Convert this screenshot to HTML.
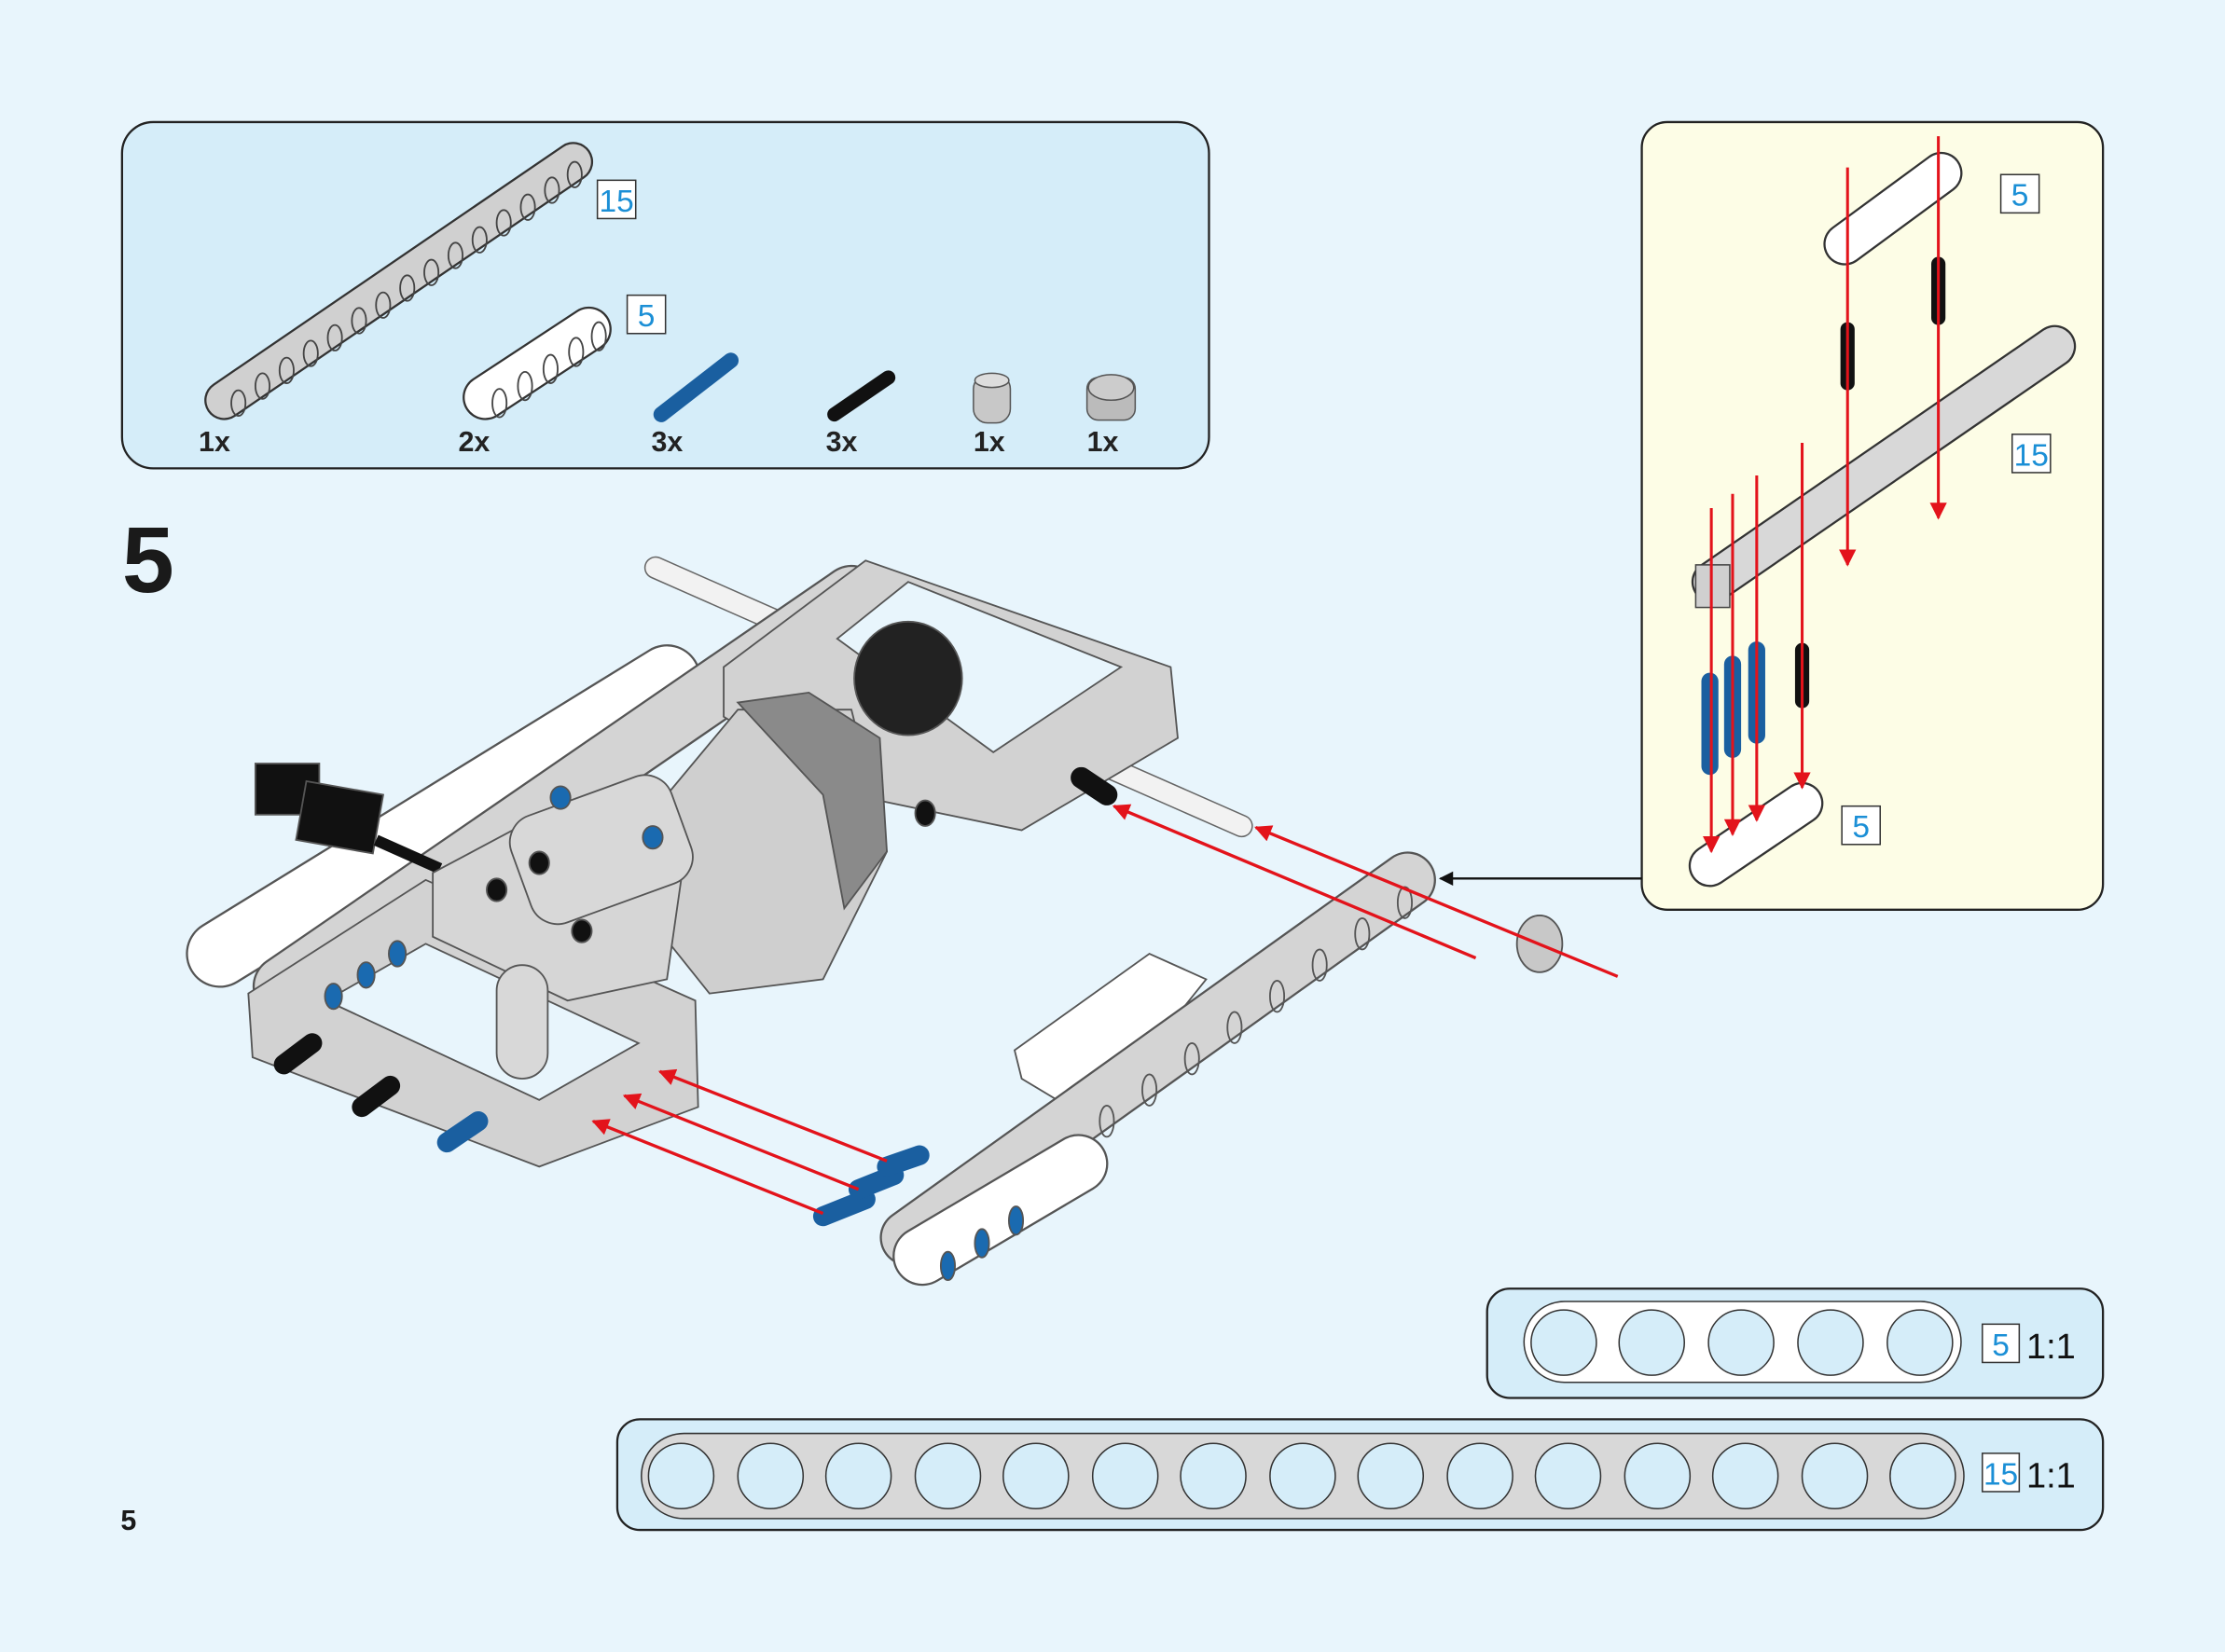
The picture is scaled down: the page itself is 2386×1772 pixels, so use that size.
<!DOCTYPE html>
<html><head><meta charset="utf-8"><style>
html,body{margin:0;padding:0;background:#e8f5fc;}
svg{display:block;}
text{font-family:"Liberation Sans",Arial,sans-serif;}
</style></head><body>
<svg width="2386" height="1772" viewBox="0 0 1568 1164" preserveAspectRatio="none" xmlns="http://www.w3.org/2000/svg">
<defs>
<marker id="ar" viewBox="0 0 10 10" refX="9" refY="5" markerUnits="userSpaceOnUse" markerWidth="16" markerHeight="12" orient="auto"><path d="M0,0 L10,5 L0,10 z" fill="#e3131b"/></marker>
<marker id="ak" viewBox="0 0 10 10" refX="9" refY="5" markerUnits="userSpaceOnUse" markerWidth="14" markerHeight="10" orient="auto"><path d="M0,0 L10,5 L0,10 z" fill="#111"/></marker>
</defs>
<rect width="1568" height="1164" fill="#e8f5fc"/>

<!-- parts panel -->
<rect x="86" y="86" width="766" height="244" rx="22" fill="#d5edf9" stroke="#222" stroke-width="1.5"/>
<line x1="158" y1="282" x2="404" y2="114" stroke="#333" stroke-width="28" stroke-linecap="round"/>
<line x1="158" y1="282" x2="404" y2="114" stroke="#d0d0d0" stroke-width="25" stroke-linecap="round"/>
<g fill="none" stroke="#444" stroke-width="1.2">
<ellipse cx="168" cy="284" rx="5" ry="9"/><ellipse cx="185" cy="272" rx="5" ry="9"/><ellipse cx="202" cy="261" rx="5" ry="9"/><ellipse cx="219" cy="249" rx="5" ry="9"/><ellipse cx="236" cy="238" rx="5" ry="9"/><ellipse cx="253" cy="226" rx="5" ry="9"/><ellipse cx="270" cy="215" rx="5" ry="9"/><ellipse cx="287" cy="203" rx="5" ry="9"/><ellipse cx="304" cy="192" rx="5" ry="9"/><ellipse cx="321" cy="180" rx="5" ry="9"/><ellipse cx="338" cy="169" rx="5" ry="9"/><ellipse cx="355" cy="157" rx="5" ry="9"/><ellipse cx="372" cy="146" rx="5" ry="9"/><ellipse cx="389" cy="134" rx="5" ry="9"/><ellipse cx="405" cy="123" rx="5" ry="9"/>
</g>
<line x1="342" y1="280" x2="415" y2="232" stroke="#333" stroke-width="32" stroke-linecap="round"/>
<line x1="342" y1="280" x2="415" y2="232" stroke="#fff" stroke-width="29" stroke-linecap="round"/>
<g fill="none" stroke="#444" stroke-width="1.2"><ellipse cx="352" cy="284" rx="5" ry="10"/><ellipse cx="370" cy="272" rx="5" ry="10"/><ellipse cx="388" cy="260" rx="5" ry="10"/><ellipse cx="406" cy="248" rx="5" ry="10"/><ellipse cx="422" cy="237" rx="5" ry="10"/></g>
<line x1="466" y1="292" x2="515" y2="254" stroke="#1a5fa0" stroke-width="11" stroke-linecap="round"/>
<line x1="588" y1="292" x2="626" y2="266" stroke="#111" stroke-width="10" stroke-linecap="round"/>
<rect x="686" y="264" width="26" height="34" rx="10" fill="#c8c8c8" stroke="#555"/>
<ellipse cx="699" cy="268" rx="12" ry="5" fill="#ddd" stroke="#555"/>
<rect x="766" y="266" width="34" height="30" rx="8" fill="#bbb" stroke="#555"/>
<ellipse cx="783" cy="273" rx="16" ry="9" fill="#ccc" stroke="#555"/>
<rect x="421" y="127" width="27" height="27" fill="#fff" stroke="#333"/><text x="434.5" y="149" font-size="22" fill="#1b8fd6" text-anchor="middle">15</text>
<rect x="442" y="208" width="27" height="27" fill="#fff" stroke="#333"/><text x="455.5" y="230" font-size="22" fill="#1b8fd6" text-anchor="middle">5</text>
<g font-size="20" font-weight="bold" fill="#222">
<text x="140" y="318">1x</text><text x="323" y="318">2x</text><text x="459" y="318">3x</text><text x="582" y="318">3x</text><text x="686" y="318">1x</text><text x="766" y="318">1x</text></g>

<!-- step number -->
<text x="86" y="417" font-size="66" font-weight="bold" fill="#1a1a1a">5</text>
<text x="85" y="1078" font-size="20" font-weight="bold" fill="#1a1a1a">5</text>

<!-- right panel -->
<rect x="1157" y="86" width="325" height="555" rx="18" fill="#fdfde6" stroke="#222" stroke-width="1.5"/>
<line x1="1300" y1="172" x2="1368" y2="122" stroke="#333" stroke-width="30" stroke-linecap="round"/>
<line x1="1300" y1="172" x2="1368" y2="122" stroke="#fff" stroke-width="27" stroke-linecap="round"/>
<line x1="1207" y1="410" x2="1448" y2="244" stroke="#333" stroke-width="30" stroke-linecap="round"/>
<line x1="1207" y1="410" x2="1448" y2="244" stroke="#d8d8d8" stroke-width="27" stroke-linecap="round"/>
<rect x="1195" y="398" width="24" height="30" fill="#d0d0d0" stroke="#444"/>
<line x1="1205" y1="610" x2="1270" y2="566" stroke="#333" stroke-width="30" stroke-linecap="round"/>
<line x1="1205" y1="610" x2="1270" y2="566" stroke="#fff" stroke-width="27" stroke-linecap="round"/>
<g stroke="#1a5fa0" stroke-width="12" stroke-linecap="round">
<line x1="1205" y1="480" x2="1205" y2="540"/><line x1="1221" y1="468" x2="1221" y2="528"/><line x1="1238" y1="458" x2="1238" y2="518"/></g>
<g stroke="#111" stroke-width="10" stroke-linecap="round">
<line x1="1302" y1="232" x2="1302" y2="270"/><line x1="1366" y1="186" x2="1366" y2="224"/><line x1="1270" y1="458" x2="1270" y2="494"/></g>
<g stroke="#e3131b" stroke-width="2" marker-end="url(#ar)">
<line x1="1302" y1="118" x2="1302" y2="398"/><line x1="1366" y1="96" x2="1366" y2="365"/>
<line x1="1206" y1="358" x2="1206" y2="600"/><line x1="1221" y1="348" x2="1221" y2="588"/><line x1="1238" y1="335" x2="1238" y2="578"/><line x1="1270" y1="312" x2="1270" y2="555"/></g>
<rect x="1410" y="123" width="27" height="27" fill="#fff" stroke="#333"/><text x="1423.5" y="145" font-size="22" fill="#1b8fd6" text-anchor="middle">5</text>
<rect x="1418" y="306" width="27" height="27" fill="#fff" stroke="#333"/><text x="1431.5" y="328" font-size="22" fill="#1b8fd6" text-anchor="middle">15</text>
<rect x="1298" y="568" width="27" height="27" fill="#fff" stroke="#333"/><text x="1311.5" y="590" font-size="22" fill="#1b8fd6" text-anchor="middle">5</text>

<!-- main model -->
<g stroke="#555" stroke-width="1.2">
<!-- axle -->
<line x1="462" y1="400" x2="875" y2="582" stroke="#666" stroke-width="16" stroke-linecap="round"/>
<line x1="462" y1="400" x2="875" y2="582" stroke="#f2f2f2" stroke-width="14" stroke-linecap="round"/>
<!-- long side beams -->
<line x1="155" y1="672" x2="470" y2="478" stroke="#555" stroke-width="48" stroke-linecap="round"/>
<line x1="155" y1="672" x2="470" y2="478" stroke="#fff" stroke-width="45" stroke-linecap="round"/>
<line x1="200" y1="695" x2="600" y2="420" stroke="#555" stroke-width="44" stroke-linecap="round"/>
<line x1="200" y1="695" x2="600" y2="420" stroke="#d4d4d4" stroke-width="41" stroke-linecap="round"/>
<!-- top frame -->
<path d="M510,470 L610,395 L825,470 L830,520 L720,585 L600,560 L510,505 Z" fill="#d2d2d2"/>
<path d="M590,450 L640,410 L790,470 L700,530 Z" fill="#e8f5fc" stroke="#555"/>
<ellipse cx="640" cy="478" rx="38" ry="40" fill="#222"/>
<!-- motor -->
<path d="M470,560 L520,500 L600,500 L625,600 L580,690 L500,700 L460,650 Z" fill="#cfcfcf"/>
<path d="M520,495 L570,488 L620,520 L625,600 L595,640 L580,560 Z" fill="#8a8a8a"/>
<!-- connector -->
<rect x="180" y="538" width="45" height="36" fill="#111"/>
<rect x="212" y="555" width="55" height="42" fill="#111" transform="rotate(10 240 575)"/>
<line x1="265" y1="592" x2="310" y2="612" stroke="#111" stroke-width="8"/>
<!-- front-left frame -->
<path d="M175,700 L300,620 L490,705 L492,780 L380,822 L178,745 Z" fill="#d2d2d2"/>
<path d="M230,705 L300,665 L450,735 L380,775 Z" fill="#e8f5fc"/>
<path d="M305,615 L380,575 L480,620 L470,690 L400,705 L305,660 Z" fill="#d6d6d6"/>
<rect x="364" y="560" width="120" height="80" rx="20" fill="#d8d8d8" transform="rotate(-20 420 600)"/>
<rect x="350" y="680" width="36" height="80" rx="18" fill="#d8d8d8"/>
<!-- pins on left -->
<line x1="200" y1="750" x2="220" y2="735" stroke="#111" stroke-width="14" stroke-linecap="round"/>
<line x1="255" y1="780" x2="275" y2="765" stroke="#111" stroke-width="14" stroke-linecap="round"/>
<line x1="315" y1="805" x2="337" y2="790" stroke="#1a5fa0" stroke-width="14" stroke-linecap="round"/>
<g fill="#1a6ab0"><ellipse cx="395" cy="562" rx="7" ry="8"/><ellipse cx="460" cy="590" rx="7" ry="8"/><ellipse cx="280" cy="672" rx="6" ry="9"/><ellipse cx="258" cy="687" rx="6" ry="9"/><ellipse cx="235" cy="702" rx="6" ry="9"/></g>
<g fill="#111"><ellipse cx="380" cy="608" rx="7" ry="8"/><ellipse cx="350" cy="627" rx="7" ry="8"/><ellipse cx="410" cy="656" rx="7" ry="8"/><ellipse cx="652" cy="573" rx="7" ry="9"/></g>
<!-- right pin near axle -->
<line x1="762" y1="548" x2="780" y2="560" stroke="#111" stroke-width="15" stroke-linecap="round"/>
<!-- white beam behind front beam -->
<path d="M715,740 L810,672 L850,690 L770,790 L720,760 Z" fill="#fff"/>
<!-- front 15 beam -->
<line x1="640" y1="872" x2="992" y2="620" stroke="#555" stroke-width="40" stroke-linecap="round"/>
<line x1="640" y1="872" x2="992" y2="620" stroke="#d4d4d4" stroke-width="37" stroke-linecap="round"/>
<g fill="none"><ellipse cx="780" cy="790" rx="5" ry="11"/><ellipse cx="810" cy="768" rx="5" ry="11"/><ellipse cx="840" cy="746" rx="5" ry="11"/><ellipse cx="870" cy="724" rx="5" ry="11"/><ellipse cx="900" cy="702" rx="5" ry="11"/><ellipse cx="930" cy="680" rx="5" ry="11"/><ellipse cx="960" cy="658" rx="5" ry="11"/><ellipse cx="990" cy="636" rx="5" ry="11"/></g>
<!-- white 5 beam -->
<line x1="650" y1="885" x2="760" y2="820" stroke="#555" stroke-width="42" stroke-linecap="round"/>
<line x1="650" y1="885" x2="760" y2="820" stroke="#fff" stroke-width="39" stroke-linecap="round"/>
<g fill="#1a6ab0"><ellipse cx="668" cy="892" rx="5" ry="10"/><ellipse cx="692" cy="876" rx="5" ry="10"/><ellipse cx="716" cy="860" rx="5" ry="10"/></g>
<g stroke="#1a5fa0" stroke-width="14" stroke-linecap="round"><line x1="580" y1="857" x2="610" y2="845"/><line x1="605" y1="838" x2="630" y2="828"/><line x1="625" y1="822" x2="648" y2="814"/></g>
<!-- bushing -->
<ellipse cx="1085" cy="665" rx="16" ry="20" fill="#c8c8c8"/>
</g>
<!-- red arrows main -->
<g stroke="#e3131b" stroke-width="2.2" marker-end="url(#ar)">
<line x1="1040" y1="675" x2="785" y2="568"/><line x1="1140" y1="688" x2="885" y2="583"/>
<line x1="625" y1="818" x2="465" y2="755"/><line x1="605" y1="838" x2="440" y2="772"/><line x1="580" y1="855" x2="418" y2="790"/></g>
<line x1="1157" y1="619" x2="1015" y2="619" stroke="#111" stroke-width="1.5" marker-end="url(#ak)"/>

<!-- scale 5 -->
<rect x="1048" y="908" width="434" height="77" rx="16" fill="#d5edf9" stroke="#222" stroke-width="1.5"/>
<rect x="1074" y="917" width="308" height="57" rx="28.5" fill="#fff" stroke="#333"/>
<g fill="#d5edf9" stroke="#333"><circle cx="1102" cy="946" r="23"/><circle cx="1164" cy="946" r="23"/><circle cx="1227" cy="946" r="23"/><circle cx="1290" cy="946" r="23"/><circle cx="1353" cy="946" r="23"/></g>
<rect x="1397" y="933" width="26" height="27" fill="#fff" stroke="#333"/><text x="1410" y="955" font-size="22" fill="#1b8fd6" text-anchor="middle">5</text>
<text x="1428" y="957" font-size="25" fill="#111">1:1</text>
<!-- scale 15 -->
<rect x="435" y="1000" width="1047" height="78" rx="16" fill="#d5edf9" stroke="#222" stroke-width="1.5"/>
<rect x="452" y="1010" width="932" height="60" rx="30" fill="#d8d8d8" stroke="#333"/>
<g fill="#d5edf9" stroke="#333"><circle cx="480" cy="1040" r="23"/><circle cx="543" cy="1040" r="23"/><circle cx="605" cy="1040" r="23"/><circle cx="668" cy="1040" r="23"/><circle cx="730" cy="1040" r="23"/><circle cx="793" cy="1040" r="23"/><circle cx="855" cy="1040" r="23"/><circle cx="918" cy="1040" r="23"/><circle cx="980" cy="1040" r="23"/><circle cx="1043" cy="1040" r="23"/><circle cx="1105" cy="1040" r="23"/><circle cx="1168" cy="1040" r="23"/><circle cx="1230" cy="1040" r="23"/><circle cx="1293" cy="1040" r="23"/><circle cx="1355" cy="1040" r="23"/></g>
<rect x="1397" y="1024" width="26" height="27" fill="#fff" stroke="#333"/><text x="1410" y="1046" font-size="22" fill="#1b8fd6" text-anchor="middle">15</text>
<text x="1428" y="1048" font-size="25" fill="#111">1:1</text>
</svg>
</body></html>
